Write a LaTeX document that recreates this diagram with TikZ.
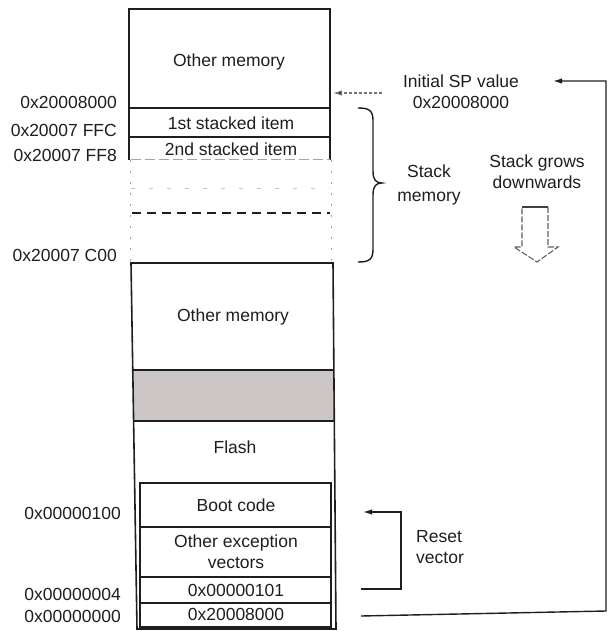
\documentclass[tikz,border=0pt]{standalone}
\usepackage{fontspec}
\setmainfont{Liberation Sans}
\usetikzlibrary{arrows.meta}
\definecolor{ink}{RGB}{30,30,30}
\definecolor{band}{RGB}{205,198,198}
\definecolor{faint}{RGB}{165,165,165}
\begin{document}
\begin{tikzpicture}[x=1pt,y=-1pt,
  lbl/.style={font=\fontsize{17.5}{21}\selectfont, text=ink, inner sep=0pt},
  box/.style={draw=ink, line width=1.6pt},
  tip/.style={-{Latex[length=9pt,width=5.5pt]}}]
\useasboundingbox (0,0) rectangle (608,631);

% ---- upper column (RAM / stack) ----
\draw[box] (129,9) rectangle (330,108);
\draw[box] (129,108) rectangle (330,137);
\draw[box] (129,160) -- (129,137) -- (330,137) -- (330,160);
\draw[faint, line width=1pt, dash pattern=on 10pt off 4pt] (131,160) -- (330,160);
\draw[faint!60, line width=1pt, dash pattern=on 4pt off 14pt] (131,188) -- (330,188);
\draw[ink, line width=1.3pt, dash pattern=on 9pt off 6pt] (132,213) -- (330,213);
\draw[faint, line width=1pt, dash pattern=on 2pt off 9pt] (130,160) -- (130,262);
\draw[faint, line width=1pt, dash pattern=on 2pt off 9pt] (331,160) -- (331,262);

% ---- lower column ----
\fill[band] (132.7,370) -- (333.9,370) -- (334.3,421) -- (133.6,421) -- cycle;
\draw[box] (131,263) -- (333,263) -- (336,629) -- (137,629) -- cycle;
\draw[box] (132.7,370) -- (333.9,370);
\draw[box] (133.6,421) -- (334.3,421);
\draw[box] (140,483) rectangle (331,527);
\draw[box] (140,527) rectangle (331,577);
\draw[box] (140,577) rectangle (331,603);
\draw[box] (140,603) rectangle (331,627);

% ---- column texts ----
\node[lbl] (om1) at (229,62) {Other memory};
\node[lbl] (s1) at (231,123) {1st stacked item};
\node[lbl] (s2) at (231,149) {2nd stacked item};
\node[lbl] (om2) at (233,317) {Other memory};
\node[lbl] (fl) at (235,447) {Flash};
\node[lbl] (bc) at (236,505) {Boot code};
\node[lbl,align=center] (oev) at (236,552) {Other exception\\vectors};
\node[lbl] (rvv) at (236,590) {0x00000101};
\node[lbl] (spv) at (236,614) {0x20008000};

% ---- address labels ----
\node[lbl,anchor=east] (a1) at (117,102) {0x20008000};
\node[lbl,anchor=east] (a2) at (117,130) {0x20007 FFC};
\node[lbl,anchor=east] (a3) at (117,155) {0x20007 FF8};
\node[lbl,anchor=east] (a4) at (117,255) {0x20007 C00};
\node[lbl,anchor=east] (a5) at (121,513) {0x00000100};
\node[lbl,anchor=east] (a6) at (121,594) {0x00000004};
\node[lbl,anchor=east] (a7) at (121,616) {0x00000000};

% ---- right side texts ----
\node[lbl,align=center] (isp) at (461,92) {Initial SP value\\0x20008000};
\node[lbl,align=center,font=\fontsize{17.5}{24}\selectfont] (sm) at (429,185) {Stack\\memory};
\node[lbl,align=center] (sg) at (537,172) {Stack grows\\downwards};
\node[lbl,align=left,anchor=west] (rvl) at (416,547) {Reset\\vector};

% ---- connectors ----
\coordinate (spfrom) at (382,93);
\coordinate (spto) at (333,93);
\draw[faint!70!black, line width=1.1pt, dash pattern=on 3pt off 2pt, -{Latex[length=9pt,width=5.5pt,fill=ink]}] (spfrom) -- (spto);

\coordinate (v0a) at (361,616);
\coordinate (v0b) at (606,611);
\coordinate (v0c) at (606,81);
\coordinate (ispin) at (553,81);
\draw[ink, line width=1.4pt, tip] (v0a) -- (v0b) -- (v0c) -- (ispin);

\coordinate (rva) at (361,589);
\coordinate (rvb) at (401,589);
\coordinate (rvc) at (401,512);
\coordinate (rvd) at (363,512);
\draw[ink, line width=1.4pt, tip] (rva) -- (rvb) -- (rvc) -- (rvd);

% ---- brace ----
\draw[ink, line width=1.4pt] (358,108) .. controls (370,108) and (373,111) .. (373,121)
  -- (373,171) .. controls (373,180) and (376,183) .. (382,183)
  .. controls (376,183) and (373,186) .. (373,195)
  -- (373,249) .. controls (373,259) and (370,262) .. (358,262);

% ---- hollow down arrow ----
\draw[ink!85, line width=1.1pt] (522,207) -- (548,207);
\draw[ink!70, line width=1.1pt, dash pattern=on 6pt off 2pt] (548,207) -- (548,247) -- (558,247)
  -- (537,262) -- (514,247) -- (522,247) -- (522,207);
\end{tikzpicture}
\end{document}
